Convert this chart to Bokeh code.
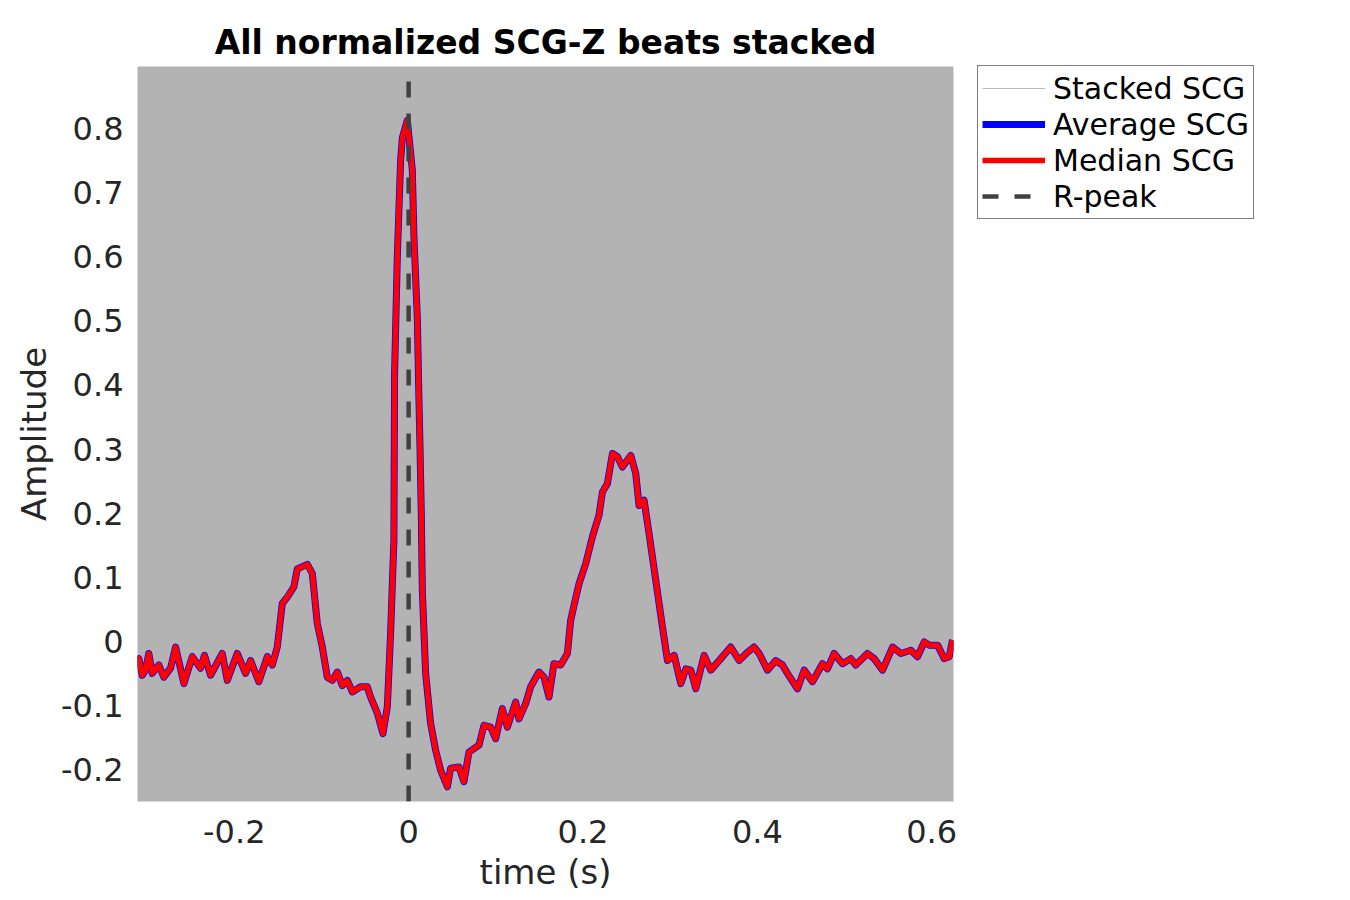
from bokeh.plotting import figure
from bokeh.models import Range1d, FixedTicker, Legend, LegendItem
from bokeh.embed import file_html
from bokeh.resources import INLINE

# ---- data ----
time_s = [-0.3133, -0.3095, -0.3056, -0.3018, -0.2980, -0.2941, -0.2865, -0.2808, -0.2731, -0.2673,
          -0.2578, -0.2482, -0.2387, -0.2341, -0.2272, -0.2138, -0.2080, -0.1966, -0.1870, -0.1813,
          -0.1718, -0.1621, -0.1564, -0.1507, -0.1449, -0.1392, -0.1316, -0.1277, -0.1162, -0.1105,
          -0.1048, -0.0990, -0.0933, -0.0876, -0.0818, -0.0761, -0.0703, -0.0646, -0.0551, -0.0474,
          -0.0436, -0.0359, -0.0295, -0.0244, -0.0207, -0.0169, -0.0161, -0.0130, -0.0092, -0.0072,
          -0.0015, 0.0042, 0.0061, 0.0100, 0.0119, 0.0131, 0.0145, 0.0157, 0.0195, 0.0252,
          0.0310, 0.0367, 0.0444, 0.0482, 0.0577, 0.0634, 0.0692, 0.0807, 0.0864, 0.0941,
          0.0998, 0.1075, 0.1132, 0.1228, 0.1266, 0.1343, 0.1400, 0.1495, 0.1553, 0.1610,
          0.1667, 0.1744, 0.1821, 0.1859, 0.1897, 0.1955, 0.2031, 0.2108, 0.2184, 0.2223,
          0.2280, 0.2338, 0.2395, 0.2452, 0.2548, 0.2605, 0.2643, 0.2701, 0.2758, 0.2835,
          0.2912, 0.2969, 0.3046, 0.3122, 0.3180, 0.3237, 0.3294, 0.3390, 0.3466, 0.3581,
          0.3695, 0.3791, 0.3887, 0.3963, 0.4021, 0.4116, 0.4211, 0.4288, 0.4345, 0.4460,
          0.4537, 0.4632, 0.4747, 0.4804, 0.4881, 0.4977, 0.5072, 0.5129, 0.5263, 0.5340,
          0.5436, 0.5551, 0.5646, 0.5761, 0.5837, 0.5914, 0.5972, 0.6067, 0.6144, 0.6201,
          0.6239]

median_scg = [-0.032, -0.027, -0.053, -0.045, -0.019, -0.050, -0.037, -0.056, -0.042, -0.009,
              -0.066, -0.024, -0.042, -0.022, -0.053, -0.019, -0.061, -0.019, -0.050, -0.030,
              -0.063, -0.024, -0.037, -0.009, 0.059, 0.069, 0.085, 0.113, 0.120, 0.106,
              0.028, -0.009, -0.056, -0.061, -0.048, -0.069, -0.061, -0.079, -0.071, -0.071,
              -0.087, -0.112, -0.144, -0.102, 0.012, 0.158, 0.418, 0.600, 0.750, 0.786,
              0.813, 0.736, 0.632, 0.503, 0.374, 0.300, 0.200, 0.080, -0.050, -0.128,
              -0.170, -0.201, -0.227, -0.198, -0.196, -0.219, -0.173, -0.162, -0.131, -0.134,
              -0.152, -0.105, -0.134, -0.095, -0.121, -0.097, -0.071, -0.048, -0.056, -0.087,
              -0.035, -0.037, -0.019, 0.033, 0.056, 0.090, 0.121, 0.163, 0.197, 0.233,
              0.246, 0.293, 0.288, 0.272, 0.290, 0.262, 0.212, 0.220, 0.168, 0.095,
              0.022, -0.030, -0.022, -0.066, -0.043, -0.045, -0.074, -0.022, -0.045, -0.027,
              -0.009, -0.030, -0.017, -0.009, -0.019, -0.045, -0.030, -0.037, -0.050, -0.074,
              -0.045, -0.063, -0.035, -0.043, -0.019, -0.035, -0.027, -0.037, -0.019, -0.027,
              -0.045, -0.009, -0.019, -0.014, -0.024, -0.001, -0.006, -0.006, -0.027, -0.024,
              0.002]

average_scg = list(median_scg)
stacked_scg = list(median_scg)

rpeak_time = [0.0]

x_ticks = [-0.2, 0.0, 0.2, 0.4, 0.6]
x_tick_labels = ["-0.2", "0", "0.2", "0.4", "0.6"]
y_ticks = [-0.2, -0.1, 0.0, 0.1, 0.2, 0.3, 0.4, 0.5, 0.6, 0.7, 0.8]
y_tick_labels = ["-0.2", "-0.1", "0", "0.1", "0.2", "0.3", "0.4", "0.5", "0.6", "0.7", "0.8"]

x_lim = (-0.311, 0.625)
y_lim = (-0.25, 0.897)

FONT = "DejaVu Sans"
TXT = "#262626"
FRAME_H = 735

p = figure(frame_width=816, frame_height=FRAME_H,
           x_range=Range1d(*x_lim), y_range=Range1d(*y_lim),
           output_backend="svg", toolbar_location=None,
           min_border_left=137, min_border_top=66, min_border_bottom=90, min_border_right=380,
           background_fill_color="#b3b3b3", border_fill_color="white",
           title="All normalized SCG-Z beats stacked")
p.outline_line_color = None
p.xgrid.visible = False
p.ygrid.visible = False

p.title.text_font = FONT
p.title.text_font_size = "33px"
p.title.text_font_style = "bold"
p.title.text_color = "black"
p.title.align = "center"

for ax in (p.xaxis[0], p.yaxis[0]):
    ax.axis_line_color = None
    ax.major_tick_line_color = None
    ax.minor_tick_line_color = None
    ax.major_label_text_font = FONT
    ax.major_label_text_font_size = "32px"
    ax.major_label_text_color = TXT
    ax.axis_label_text_font = FONT
    ax.axis_label_text_font_size = "34px"
    ax.axis_label_text_color = TXT
    ax.axis_label_text_font_style = "normal"

p.xaxis[0].major_label_standoff = 12
p.yaxis[0].major_label_standoff = 8
p.xaxis[0].ticker = FixedTicker(ticks=x_ticks)
p.xaxis[0].major_label_overrides = dict(zip(x_ticks, x_tick_labels))
p.yaxis[0].ticker = FixedTicker(ticks=y_ticks)
p.yaxis[0].major_label_overrides = dict(zip(y_ticks, y_tick_labels))
p.xaxis[0].axis_label = "time (s)"
p.yaxis[0].axis_label = "Amplitude"
p.xaxis[0].axis_label_standoff = 6
p.yaxis[0].axis_label_standoff = 4

r_stack = p.line(time_s, stacked_scg, line_color="#b8b8b8", line_width=1.2)
r_avg = p.line(time_s, average_scg, line_color="#0000ff", line_width=7, line_join="round")
r_med = p.line(time_s, median_scg, line_color="#ff0000", line_width=5.5, line_join="round")
r_rp = p.segment(x0=rpeak_time, y0=[y_lim[0]] * len(rpeak_time),
                 x1=rpeak_time, y1=[y_lim[1]] * len(rpeak_time),
                 line_color="#404040", line_width=4.5, line_dash="16 16")

ROW_H = 36
PAD = 4
legend_h = 2 * PAD + 4 * ROW_H
legend = Legend(items=[
    LegendItem(label="Stacked SCG", renderers=[r_stack]),
    LegendItem(label="Average SCG", renderers=[r_avg]),
    LegendItem(label="Median SCG", renderers=[r_med]),
    LegendItem(label="R-peak", renderers=[r_rp]),
], location=(24, FRAME_H - 1 - legend_h))
legend.label_text_font = FONT
legend.label_text_font_size = "30px"
legend.label_text_color = "black"
legend.border_line_color = "black"
legend.border_line_width = 1
legend.background_fill_color = "white"
legend.background_fill_alpha = 1.0
legend.padding = PAD
legend.spacing = 0
legend.glyph_width = 63
legend.glyph_height = ROW_H
legend.label_height = ROW_H
legend.label_standoff = 8
legend.margin = 0
p.add_layout(legend, "right")

open("out.html", "w").write(file_html(p, INLINE))
